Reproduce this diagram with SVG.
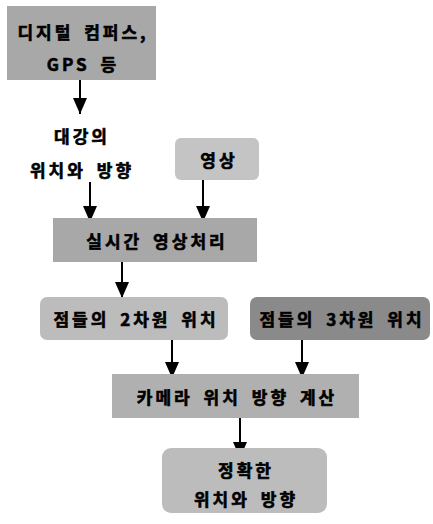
<svg xmlns="http://www.w3.org/2000/svg" width="433" height="524" viewBox="0 0 433 524">
<defs>
<style>
text{font-family:"Noto Sans CJK KR","Liberation Sans",sans-serif;font-weight:bold;font-size:17px;fill:#000;stroke:#000;stroke-width:0.6px;text-anchor:middle;dominant-baseline:central;letter-spacing:3px;word-spacing:4px}
.c line{stroke:#000;stroke-width:2}
</style>
<marker id="a" viewBox="0 0 16 14" refX="16" refY="7" markerWidth="16" markerHeight="14" markerUnits="userSpaceOnUse" orient="auto">
<path d="M0,0 L16,7 L0,14 z" fill="#000"/>
</marker>
</defs>
<rect width="433" height="524" fill="#fff"/>
<g class="c" id="connectors">
<line x1="80" y1="80" x2="80" y2="114" marker-end="url(#a)"/>
<line x1="90" y1="182" x2="90" y2="222" marker-end="url(#a)"/>
<line x1="203" y1="180" x2="203" y2="222" marker-end="url(#a)"/>
<line x1="122" y1="262" x2="122" y2="298" marker-end="url(#a)"/>
<line x1="172" y1="340" x2="172" y2="378" marker-end="url(#a)"/>
<line x1="302" y1="340" x2="302" y2="378" marker-end="url(#a)"/>
<line x1="240" y1="418" x2="240" y2="458" marker-end="url(#a)"/>
</g>
<g id="n1"><rect x="7" y="6" width="149" height="74" fill="#a8a8a8"/><text x="83" y="31">디지털 컴퍼스,</text><text x="83" y="63">GPS 등</text></g>
<g id="n2"><text x="82" y="135">대강의</text><text x="82" y="169">위치와 방향</text></g>
<g id="n3"><rect x="175" y="138" width="84" height="42" rx="6" fill="#c4c4c4"/><text x="219" y="159">영상</text></g>
<g id="n4"><rect x="53" y="218" width="204" height="44" fill="#a8a8a8"/><text x="157" y="240">실시간 영상처리</text></g>
<g id="n5"><rect x="40" y="297" width="188" height="43" rx="7" fill="#bcbcbc"/><text x="136" y="318">점들의 2차원 위치</text></g>
<g id="n6"><rect x="250" y="297" width="180" height="43" rx="7" fill="#8a8a8a"/><text x="342" y="318">점들의 3차원 위치</text></g>
<g id="n7"><rect x="112" y="374" width="247" height="44" fill="#b0b0b0"/><text x="237" y="396">카메라 위치 방향 계산</text></g>
<g id="n8"><rect x="162" y="448" width="165" height="65" rx="9" fill="#bcbcbc"/><text x="246" y="469">정확한</text><text x="246" y="498">위치와 방향</text></g>
</svg>
